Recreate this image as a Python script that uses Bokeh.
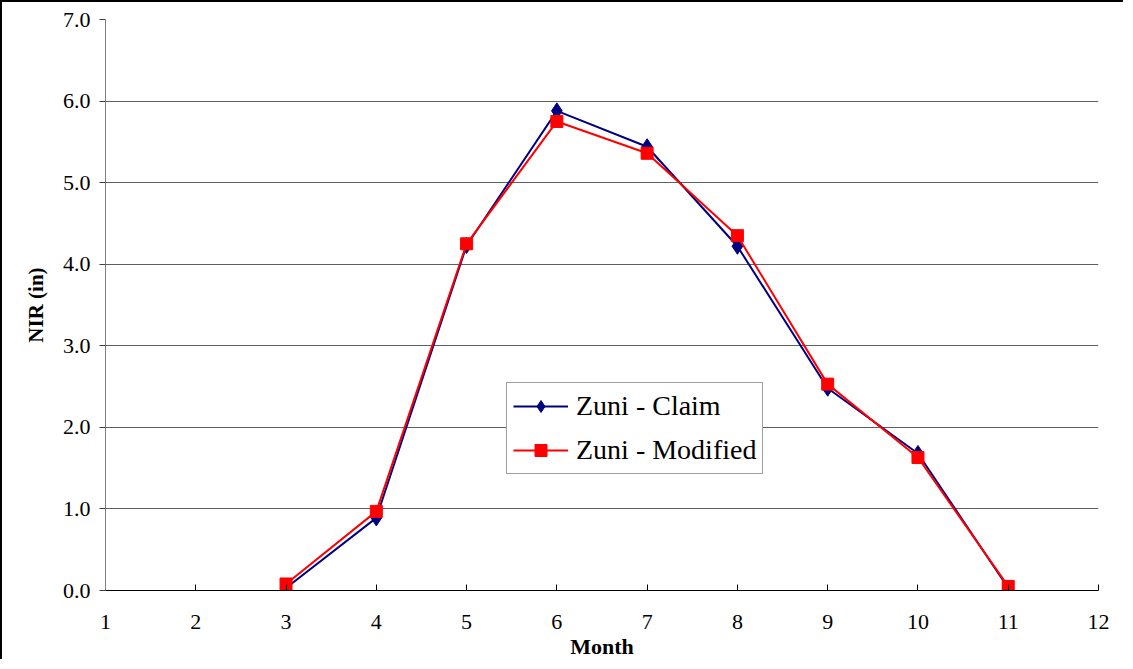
from bokeh.plotting import figure
from bokeh.models import Range1d, FixedTicker, NumeralTickFormatter, Legend, LegendItem
from bokeh.embed import file_html
from bokeh.resources import INLINE

months = [3, 4, 5, 6, 7, 8, 9, 10, 11]
claim = [0.03, 0.89, 4.23, 5.88, 5.44, 4.22, 2.48, 1.68, 0.03]
modified = [0.08, 0.97, 4.25, 5.75, 5.36, 4.35, 2.53, 1.63, 0.05]
x_ticks = list(range(1, 13))
y_ticks = [0, 1, 2, 3, 4, 5, 6, 7]

FONT = "Liberation Serif"

p = figure(width=1123, height=659, output_backend="svg", toolbar_location=None,
           x_range=Range1d(1, 12), y_range=Range1d(0, 7),
           min_border_left=103, min_border_top=17, min_border_right=27, min_border_bottom=71)
p.styles = {"border-left": "2px solid black", "border-top": "2px solid black"}
p.outline_line_color = None
p.background_fill_color = "white"
p.border_fill_color = "white"

p.xgrid.visible = False
p.ygrid.ticker = FixedTicker(ticks=y_ticks)
p.ygrid.grid_line_color = "#606060"
p.ygrid.grid_line_width = 1

p.xaxis.ticker = FixedTicker(ticks=x_ticks)
p.xaxis.axis_line_color = "black"
p.xaxis.major_tick_line_color = "black"
p.xaxis.major_tick_in = 6
p.xaxis.major_tick_out = 0
p.xaxis.minor_tick_line_color = None
p.xaxis.major_label_text_font = FONT
p.xaxis.major_label_text_font_size = "22px"
p.xaxis.major_label_text_color = "black"
p.xaxis.major_label_standoff = 24
p.xaxis.axis_label = "Month"
p.xaxis.axis_label_text_font = FONT
p.xaxis.axis_label_text_font_style = "bold"
p.xaxis.axis_label_text_font_size = "22px"
p.xaxis.axis_label_text_color = "black"
p.xaxis.axis_label_standoff = 2

p.yaxis.ticker = FixedTicker(ticks=y_ticks)
p.yaxis.formatter = NumeralTickFormatter(format="0.0")
p.yaxis.axis_line_color = "#808080"
p.yaxis.major_tick_line_color = "#404040"
p.yaxis.major_tick_in = 0
p.yaxis.major_tick_out = 6
p.yaxis.minor_tick_line_color = None
p.yaxis.major_label_text_font = FONT
p.yaxis.major_label_text_font_size = "22px"
p.yaxis.major_label_text_color = "black"
p.yaxis.major_label_standoff = 9
p.yaxis.axis_label = "NIR (in)"
p.yaxis.axis_label_text_font = FONT
p.yaxis.axis_label_text_font_style = "bold"
p.yaxis.axis_label_text_font_size = "21px"
p.yaxis.axis_label_text_color = "black"
p.yaxis.axis_label_standoff = 12

l1 = p.line(months, claim, line_color="#000080", line_width=2)
m1 = p.scatter(months, claim, marker="diamond", size=16, fill_color="#000080", line_color="#000080")
l2 = p.line(months, modified, line_color="#FF0000", line_width=2)
m2 = p.scatter(months, modified, marker="square", size=12, fill_color="#FF0000", line_color="#FF0000")

legend = Legend(items=[LegendItem(label="Zuni - Claim", renderers=[l1, m1]),
                       LegendItem(label="Zuni - Modified", renderers=[l2, m2])],
                location=(401, 116))
legend.label_text_font = FONT
legend.label_text_font_size = "28px"
legend.label_text_color = "black"
legend.glyph_width = 55
legend.glyph_height = 30
legend.label_height = 34
legend.spacing = 10
legend.padding = 6
legend.margin = 0
legend.label_standoff = 8
legend.border_line_color = "#404040"
legend.border_line_width = 1
legend.background_fill_color = "white"
legend.background_fill_alpha = 1
p.add_layout(legend)

open("out.html", "w").write(file_html(p, INLINE))
